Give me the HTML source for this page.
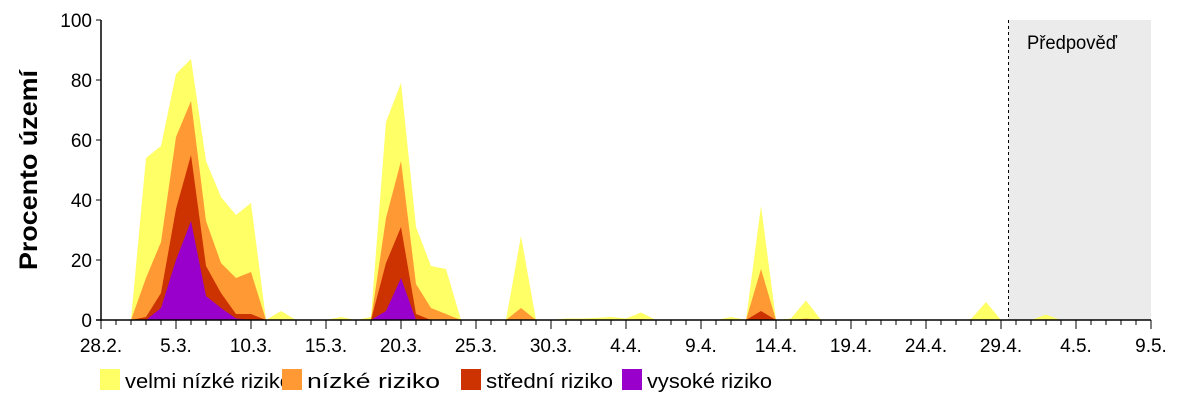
<!DOCTYPE html>
<html><head><meta charset="utf-8"><style>
body{margin:0;background:#fff;width:1200px;height:400px;overflow:hidden;font-family:"Liberation Sans",sans-serif}
</style></head><body>
<svg id="c" width="1200" height="400" xmlns="http://www.w3.org/2000/svg"></svg>
<script>
const xLabels=["28.2.","5.3.","10.3.","15.3.","20.3.","25.3.","30.3.","4.4.","9.4.","14.4.","19.4.","24.4.","29.4.","4.5.","9.5."];
const yTicks=[0,20,40,60,80,100];
const seriesNames=["velmi nízké riziko","nízké riziko","střední riziko","vysoké riziko"];
const seriesColors=["#ffff66","#ff9933","#cc3300","#9900cc"];
// cumulative tops per day (day 0 = 28.2.)
const yellowTop={3:54,4:58,5:82,6:87,7:53,8:41,9:35,10:39,12:3,16:1,18:1,19:66,20:79,21:31,22:18,23:17,28:28,31:0.5,32:0.5,33:0.7,34:1,35:0.5,36:2.5,42:1,44:38,46:0.5,47:6.5,58:0.3,59:6,63:1.8};
const orangeTop={3:14,4:26,5:61,6:73,7:33,8:19,9:14,10:16,19:34,20:53,21:12,22:4,23:2,28:4,36:0.3,44:17,47:0.5};
const redTop={3:1,4:9,5:37,6:55,7:18,8:9,9:2,10:2,19:19,20:31,21:2,44:3};
const purpleTop={4:4,5:20,6:33,7:8,8:4,9:0.5,19:3,20:14};
const nDays=65;
const forecastStart=60.5;
const X0=101,X1=1151,Y0=320,Y1=20;
const xs=d=>X0+(X1-X0)*d/70;
const ys=v=>Y0-(Y0-Y1)*v/100;
const svg=document.getElementById('c');
const NS="http://www.w3.org/2000/svg";
function mk(t,a,p){const e=document.createElementNS(NS,t);for(const k in a)e.setAttribute(k,a[k]);(p||svg).appendChild(e);return e;}
let r=mk('rect',{x:xs(forecastStart),y:Y1,width:X1-xs(forecastStart),height:Y0-Y1,fill:'#ebebeb'});


let fl=mk('line',{x1:xs(forecastStart),x2:xs(forecastStart),y1:Y1,y2:Y0,stroke:'#000','stroke-dasharray':'3,3','stroke-width':1});


let ft=mk('text',{x:1027,y:49,'font-size':19,textLength:90,lengthAdjust:'spacingAndGlyphs',fill:'#000'});ft.textContent='Předpověď';


const tops=[yellowTop,orangeTop,redTop,purpleTop];
const areaNames=['area-very-low-risk','area-low-risk','area-medium-risk','area-high-risk'];
tops.forEach((t,i)=>{
  let d='M'+xs(0)+','+ys(0);
  for(let k=0;k<=nDays;k++)d+=' L'+xs(k)+','+ys(t[k]||0);
  d+=' L'+xs(nDays)+','+ys(0)+' Z';
  const p=mk('path',{d:d,fill:seriesColors[i]});
  
  
});
let ya=mk('line',{x1:X0,x2:X0,y1:Y1,y2:Y0+1,stroke:'#000','stroke-width':1.5});


let xa=mk('line',{x1:X0-5,x2:X1,y1:Y0,y2:Y0,stroke:'#000','stroke-width':1.5});


yTicks.forEach(v=>{
  mk('line',{x1:X0-5,x2:X0,y1:ys(v),y2:ys(v),stroke:'#000','stroke-width':1});
  const t=mk('text',{x:X0-9,y:ys(v)+7,'font-size':19,'text-anchor':'end'});t.textContent=v;
  
  
});
for(let d=0;d<=70;d++){
  const maj=d%5===0;
  mk('line',{x1:xs(d),x2:xs(d),y1:Y0,y2:Y0+(maj?9:5),stroke:'#000','stroke-width':1});
}
xLabels.forEach((l,i)=>{
  const t=mk('text',{x:xs(i*5),y:352,'font-size':19,'text-anchor':'middle'});t.textContent=l;
  
  
});
let yt=mk('text',{x:-100,y:0,'font-size':25,'font-weight':'bold',textLength:200,lengthAdjust:'spacingAndGlyphs',transform:'translate(37,170) rotate(-90)'});yt.textContent='Procento území';


const legX=[100,282,461,622];
const legW=[167,133,127,125];
seriesNames.forEach((n,i)=>{
  const g=mk('g',{});
  
  
  mk('rect',{x:legX[i],y:369,width:20,height:21,fill:seriesColors[i]},g);
  const t=mk('text',{x:legX[i]+25,y:388,'font-size':20,textLength:legW[i],lengthAdjust:'spacingAndGlyphs'},g);t.textContent=n;
});
</script>
</body></html>
